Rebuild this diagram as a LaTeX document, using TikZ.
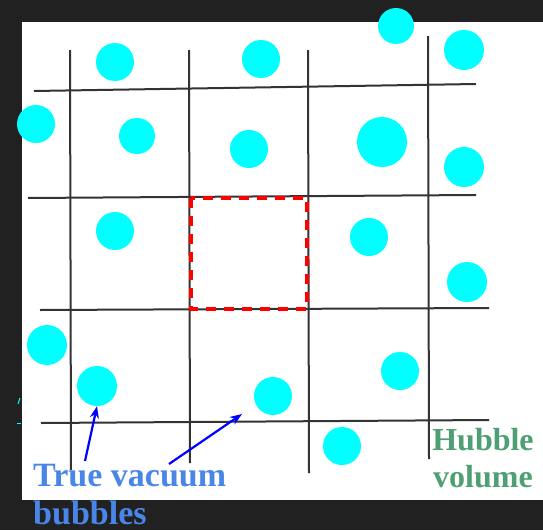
\documentclass[tikz,border=0pt]{standalone}
\usepackage{fontspec}
\setmainfont{Liberation Serif}
\newfontfamily\labelfont{Liberation Serif Bold}
\usetikzlibrary{arrows.meta}
\definecolor{bgdark}{HTML}{212121}
\definecolor{gridline}{HTML}{333333}
\definecolor{bubcyan}{RGB}{0,255,255}
\definecolor{vacblue}{RGB}{74,134,232}
\definecolor{hubgreen}{RGB}{78,160,116}

\begin{document}
\begin{tikzpicture}[x=1pt,y=-1pt,
  bubble/.style={circle,fill=bubcyan,inner sep=0,minimum size=38},
  gridln/.style={gridline,line width=2},
  ptr/.style={blue,line width=2.2,-{Stealth[length=12,width=9]}}]
\useasboundingbox (0,0) rectangle (543,530);
\fill[bgdark] (0,0) rectangle (543,530);
\fill[white] (22,22) rectangle (543,500);
% grid of Hubble volumes
\draw[gridln] (34,91) -- (476,84);
\draw[gridln] (28,198) -- (476,195);
\draw[gridln] (40,310) -- (489,308);
\draw[gridln] (41,423) -- (489,420);
\draw[gridln] (70,50) -- (71,470);
\draw[gridln] (189,50) -- (190,463);
\draw[gridln] (308,50) -- (309,473);
\draw[gridln] (428,36) -- (429,459);
% one volume
\draw[red,line width=4,dash pattern=on 10 off 8] (191,198) rectangle (307,309);
% bubbles
\node[bubble] (b1) at (115,62) {};
\node[bubble] (b2) at (261,59) {};
\node[bubble,minimum size=36] (b3) at (396,26) {};
\node[bubble,minimum size=40] (b4) at (464,50) {};
\node[bubble] (b5) at (36,124) {};
\node[bubble,minimum size=36] (b6) at (137,136) {};
\node[bubble] (b7) at (249,149) {};
\node[bubble,minimum size=50] (b8) at (382,142) {};
\node[bubble,minimum size=40] (b9) at (464,167) {};
\node[bubble] (b10) at (115,231) {};
\node[bubble] (b11) at (369,237) {};
\node[bubble,minimum size=40] (b12) at (467,282) {};
\node[bubble,minimum size=40] (b13) at (47,345) {};
\node[bubble,minimum size=40] (b14) at (97,386) {};
\node[bubble] (b15) at (273,396) {};
\node[bubble] (b16) at (400,371) {};
\node[bubble] (b17) at (342,446) {};
\draw[bubcyan,line width=1] (18,404) -- (20,398);
\draw[bubcyan,line width=1] (17,423) -- (21,423);
% labels
\node[anchor=north west,inner sep=0,align=left,text=vacblue,
  font=\labelfont\fontsize{34}{38}\selectfont] (tvb) at (33,464) {True vacuum\\bubbles};
\node[anchor=north,inner sep=0,align=center,text=hubgreen,
  font=\labelfont\fontsize{32}{37}\selectfont] (hv) at (483,428) {Hubble\\volume};
\coordinate (t1) at (85,461);
\coordinate (t2) at (169,464);
\coordinate (p2) at (242,414);
\draw[ptr] (t1) -- (b14.south);
\draw[ptr] (t2) -- (p2);
\end{tikzpicture}
\end{document}
